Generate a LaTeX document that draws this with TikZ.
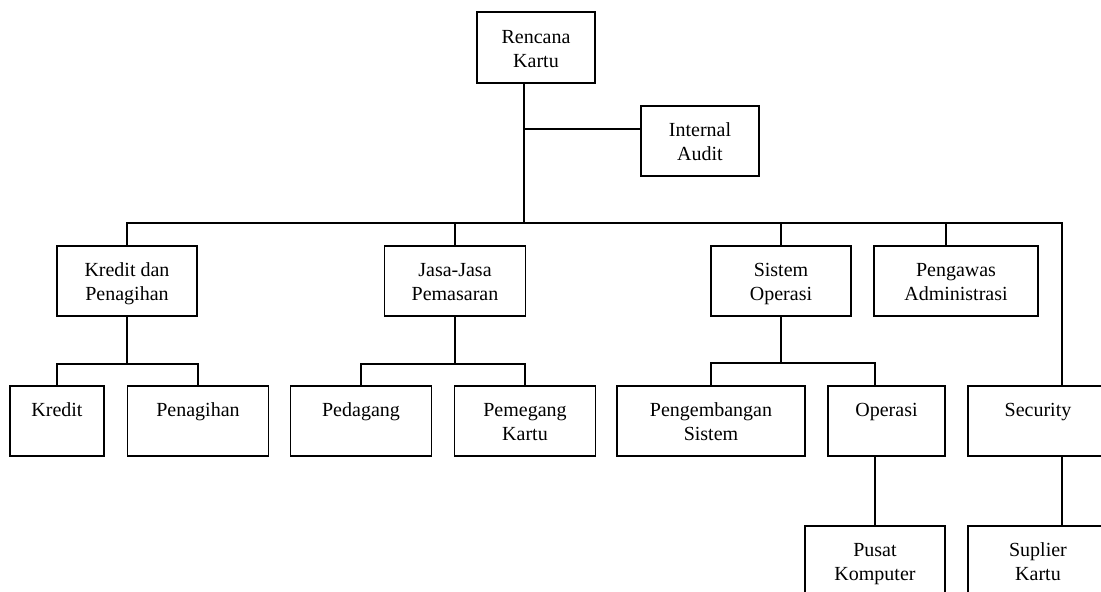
\documentclass[tikz,border=0pt]{standalone}
\usepackage{fontspec}
\setmainfont{Liberation Serif}
\usetikzlibrary{positioning}

% fixed first line height and last line depth
\newcommand{\upstrut}{\rule{0pt}{20pt}}
\newcommand{\lowstrut}{\rule[-5pt]{0pt}{5pt}}

\begin{document}
\begin{tikzpicture}[x=1pt, y=-1pt,
    box/.style={draw, line width=1.5pt, align=center, inner sep=0pt,
                minimum height=70, font=\fontsize{20}{24}\selectfont},
    link/.style={line width=1.5pt}]

    % Page frame
    \useasboundingbox (0,0) rectangle (1101,592);
    \clip (0,0) rectangle (1101,592);

    % Top level
    \node[box, minimum width=118, minimum height=71] (rk) at (536,47.5) {\upstrut Rencana\\Kartu\lowstrut};
    \node[box, minimum width=118] (ia) at (700,141) {\upstrut Internal\\Audit\lowstrut};

    % Second level
    \node[box, minimum width=140] (kp) at (127,281) {\upstrut Kredit dan\\Penagihan\lowstrut};
    \node[box, minimum width=141] (jp) at (455,281) {\upstrut Jasa-Jasa\\Pemasaran\lowstrut};
    \node[box, minimum width=140] (so) at (781,281) {\upstrut Sistem\\Operasi\lowstrut};
    \node[box, minimum width=164] (pa) at (956,281) {\upstrut Pengawas\\Administrasi\lowstrut};

    % Third level
    \node[box, minimum width=94] (kr) at (57,421) {\upstrut Kredit\\\lowstrut};
    \node[box, minimum width=141] (pn) at (198,421) {\upstrut Penagihan\\\lowstrut};
    \node[box, minimum width=141] (pd) at (361,421) {\upstrut Pedagang\\\lowstrut};
    \node[box, minimum width=141] (pk) at (525,421) {\upstrut Pemegang\\Kartu\lowstrut};
    \node[box, minimum width=188] (ps) at (711,421) {\upstrut Pengembangan\\Sistem\lowstrut};
    \node[box, minimum width=117] (op) at (886.5,421) {\upstrut Operasi\\\lowstrut};
    \node[box, minimum width=140] (sc) at (1038,421) {\upstrut Security\\\lowstrut};

    % Fourth level
    \node[box, minimum width=140] (pu) at (875,561) {\upstrut Pusat\\Komputer\lowstrut};
    \node[box, minimum width=140] (sk) at (1038,561) {\upstrut Suplier\\Kartu\lowstrut};

    % Junction points
    \coordinate (top) at (524,223);
    \coordinate (iaj) at (524,129);
    \coordinate (busR) at (1062,223);
    \coordinate (paj) at (946,223);
    \coordinate (opj) at (875,363);

    % Main trunk and bus
    \draw[link] (rk.south -| top) -- (top);
    \draw[link] (iaj) -- (iaj -| ia.west);
    \draw[link] (kp.north) |- (busR) -- (busR |- sc.north);
    \draw[link] (jp.north) -- (jp.north |- top);
    \draw[link] (so.north) -- (so.north |- top);
    \draw[link] (paj) -- (paj |- pa.north);

    % Sub branches
    \draw[link] (kp.south) -- ++(0,47) coordinate (kpj);
    \draw[link] (kr.north) |- (kpj) -| (pn.north);
    \draw[link] (jp.south) -- ++(0,47) coordinate (jpj);
    \draw[link] (pd.north) |- (jpj) -| (pk.north);
    \draw[link] (so.south) -- ++(0,47) coordinate (soj);
    \draw[link] (ps.north) |- (opj) -- (opj |- op.north);

    % Lowest links
    \draw[link] (opj |- op.south) -- (pu.north);
    \draw[link] (busR |- sc.south) -- (busR |- sk.north);
\end{tikzpicture}
\end{document}
